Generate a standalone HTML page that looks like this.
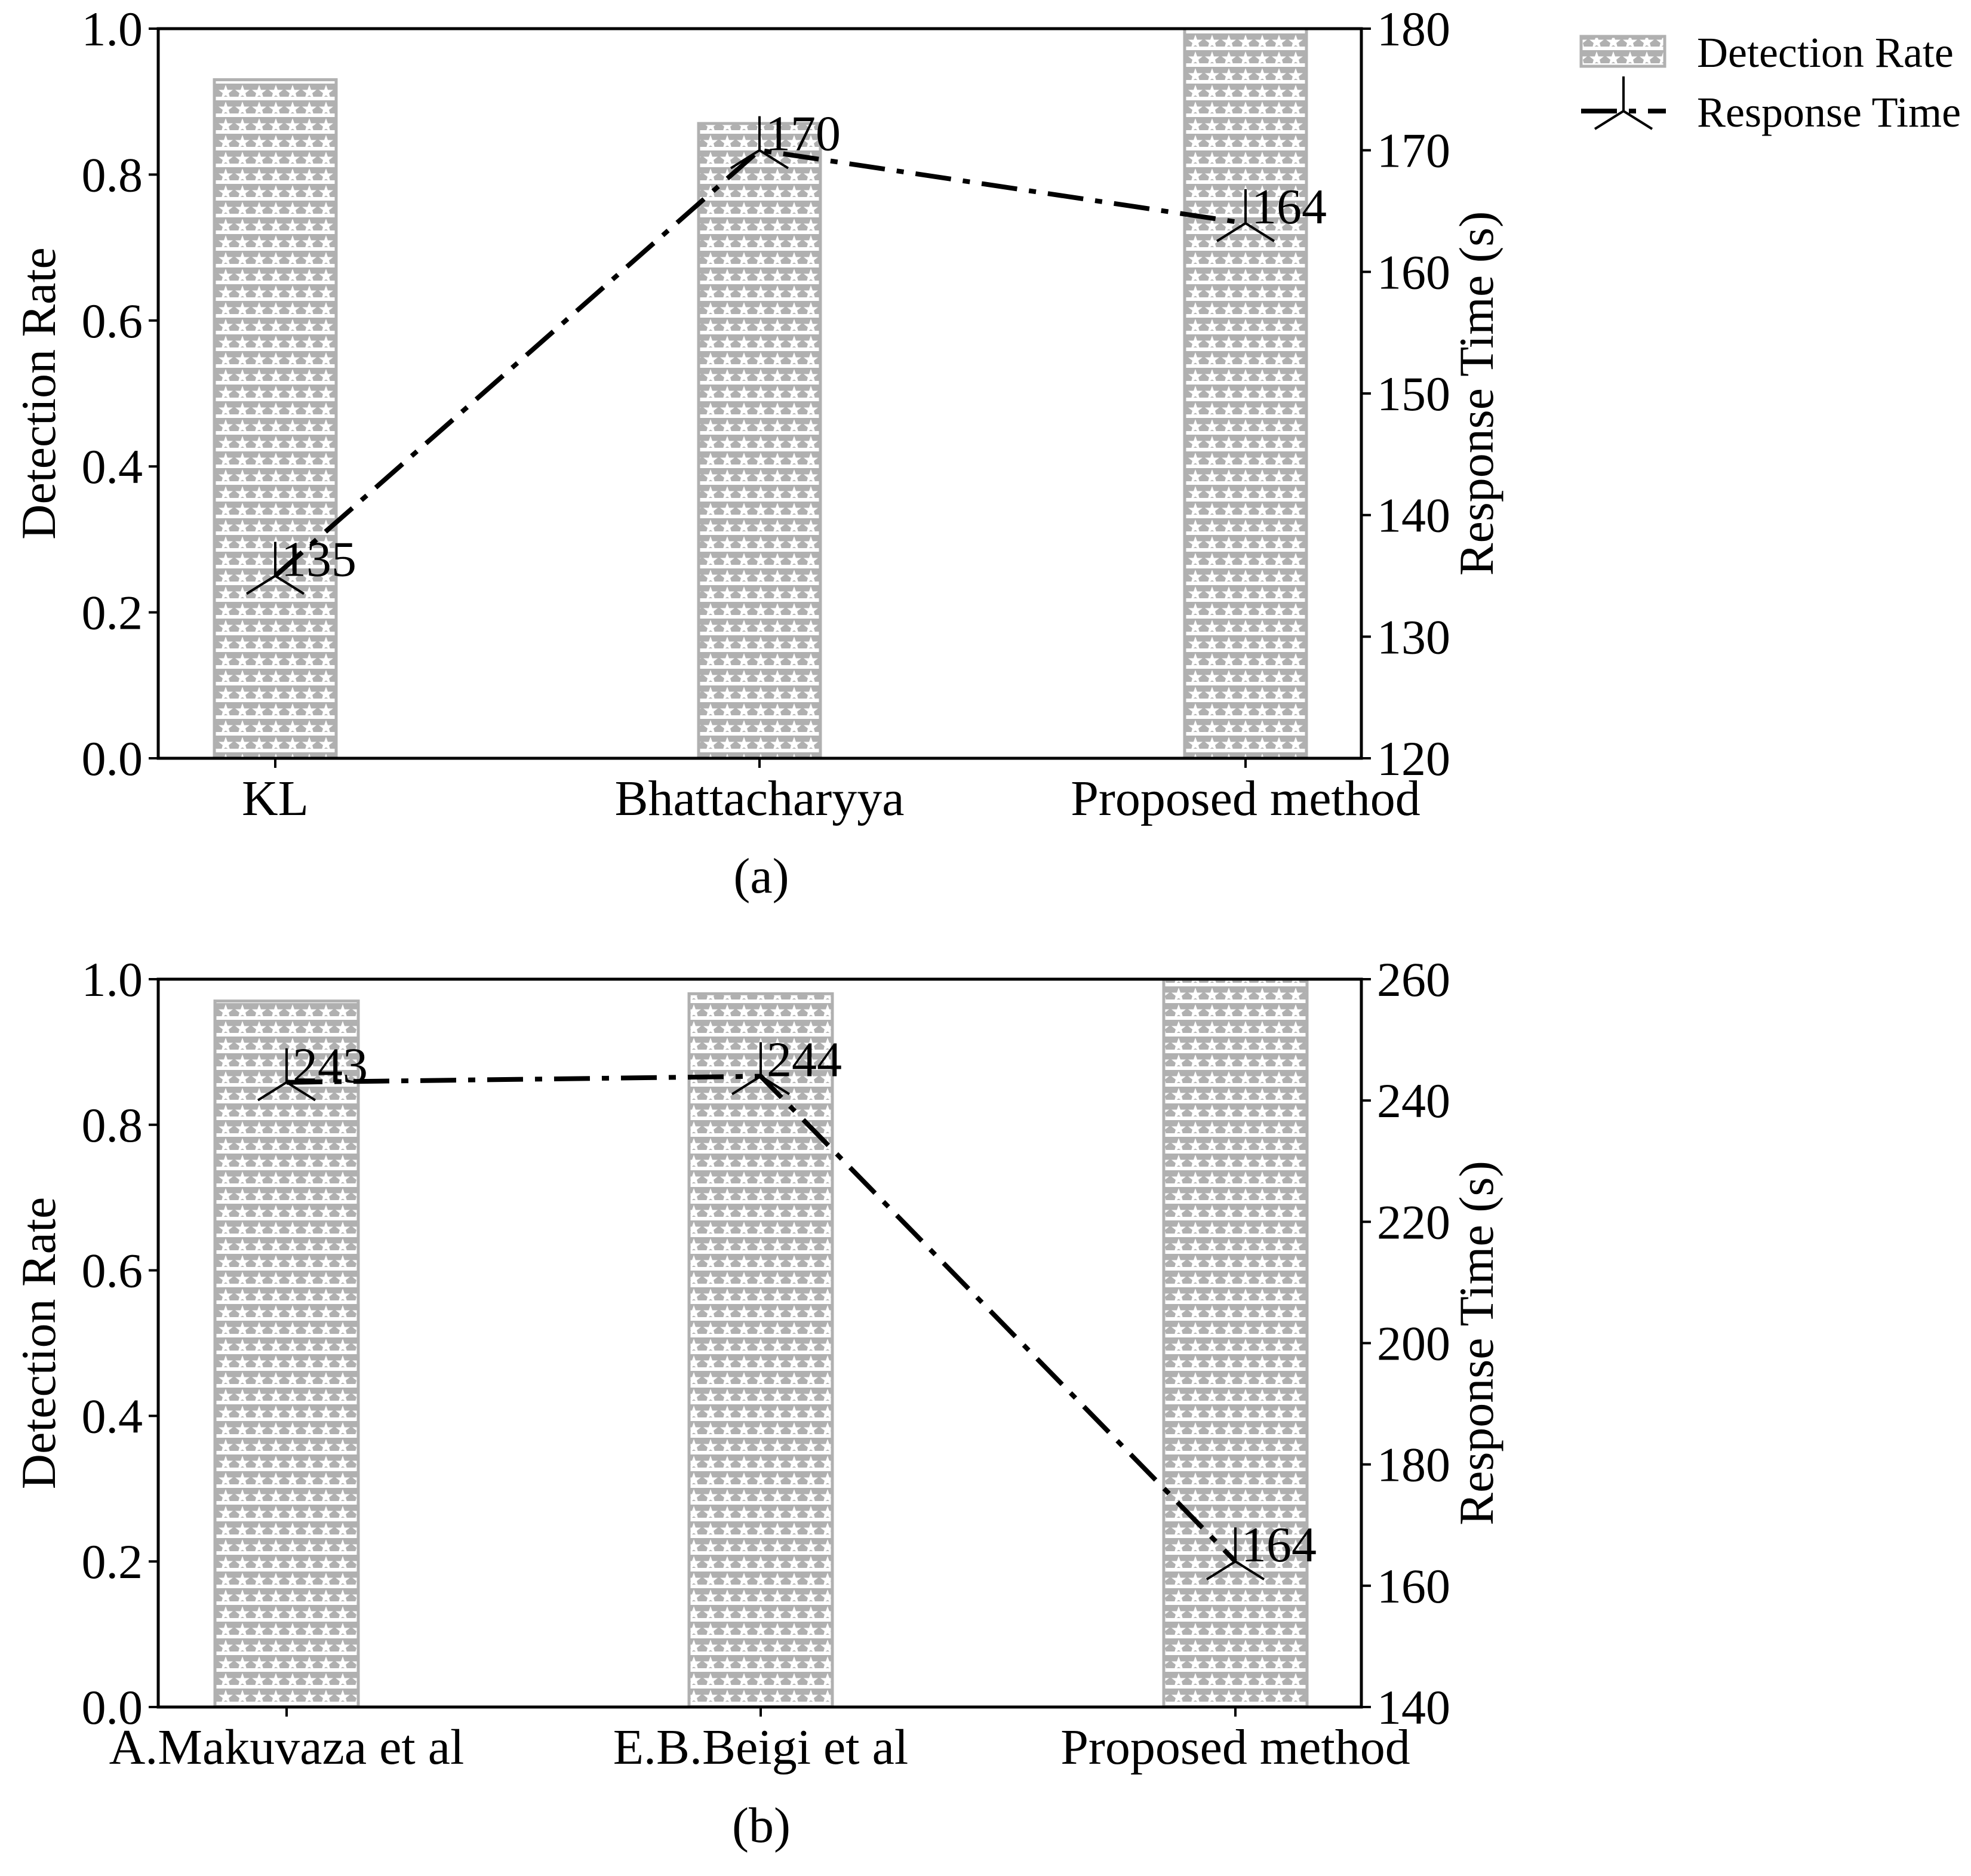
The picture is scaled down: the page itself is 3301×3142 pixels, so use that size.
<!DOCTYPE html>
<html><head><meta charset="utf-8"><style>
html,body{margin:0;padding:0;background:#fff;}
svg{display:block;font-family:"Liberation Serif",serif;}
</style></head>
<body>
<svg id="chart" width="3301" height="3142" viewBox="0 0 3301 3142" xmlns="http://www.w3.org/2000/svg">
<defs>
<pattern id="stars" patternUnits="userSpaceOnUse" width="28" height="28">
<rect width="28" height="28" fill="#b0b0b0"/>
<polygon points="14,2 17,10.5 26,10.5 19,16 21.5,25 14,19.5 6.5,25 9,16 2,10.5 11,10.5" fill="#fff"/>
<rect x="0" y="22" width="28" height="6" fill="#fff"/>
</pattern>
</defs>
</svg>
<script>
const catsA = ["KL","Bhattacharyya","Proposed method"];
const rateA = [0.93,0.87,1.0];
const timeA = [135,170,164];
const rtTicksA = [120,130,140,150,160,170,180];
const catsB = ["A.Makuvaza et al","E.B.Beigi et al","Proposed method"];
const rateB = [0.97,0.98,1.0];
const timeB = [243,244,164];
const rtTicksB = [140,160,180,200,220,240,260];
const drTicks = [0.0,0.2,0.4,0.6,0.8,1.0];

const svg = document.getElementById('chart');
const NS = 'http://www.w3.org/2000/svg';
function mk(tag, attrs, parent){const e=document.createElementNS(NS,tag);for(const k in attrs)e.setAttribute(k,attrs[k]);(parent||svg).appendChild(e);return e;}

function panel(cfg){
  const g = mk('g',{});
  
  
  const L=265,R=2280,T=cfg.top,B=cfg.bottom;
  const y1 = v => B - (v-0)/(1-0)*(B-T);
  const rmin=cfg.rt[0], rmax=cfg.rt[cfg.rt.length-1];
  const y2 = v => B - (v-rmin)/(rmax-rmin)*(B-T);
  const xs = cfg.centers;
  cfg.rate.forEach((v,i)=>{
    const r = mk('rect',{x:xs[i]-cfg.bw/2,y:y1(v),width:cfg.bw,height:B-y1(v),fill:'url(#stars)',stroke:'#b0b0b0','stroke-width':5},g);
    
    
  });
  mk('rect',{x:L,y:T,width:R-L,height:B-T,fill:'none',stroke:'#000','stroke-width':5},g);
  drTicks.forEach(t=>{
    const y=y1(t);
    mk('line',{x1:L-16,y1:y,x2:L,y2:y,stroke:'#000','stroke-width':4},g);
    const tx = mk('text',{x:L-26,y:y+28,'font-size':82,'text-anchor':'end'},g);
    tx.textContent=t.toFixed(1);
    
    
  });
  cfg.rt.forEach(t=>{
    const y=y2(t);
    mk('line',{x1:R,y1:y,x2:R+16,y2:y,stroke:'#000','stroke-width':4},g);
    const tx = mk('text',{x:R+26,y:y+28,'font-size':82},g);
    tx.textContent=t;
    
    
  });
  cfg.cats.forEach((c,i)=>{
    mk('line',{x1:xs[i],y1:B,x2:xs[i],y2:B+16,stroke:'#000','stroke-width':4},g);
    const tx = mk('text',{x:xs[i],y:B+95,'font-size':84,'text-anchor':'middle'},g);
    tx.textContent=c;
    
    
  });
  const yt = mk('text',{x:0,y:0,'font-size':82,'text-anchor':'middle',transform:`translate(92,${(T+B)/2}) rotate(-90)`},g);
  yt.textContent='Detection Rate';
  
  
  const yt2 = mk('text',{x:0,y:0,'font-size':82,'text-anchor':'middle',transform:`translate(2500,${(T+B)/2}) rotate(-90)`},g);
  yt2.textContent='Response Time (s)';
  
  
  const pts = cfg.time.map((v,i)=>xs[i]+','+y2(v)).join(' ');
  const pl = mk('polyline',{points:pts,fill:'none',stroke:'#000','stroke-width':8,'stroke-dasharray':'60 20 12 20'},g);
  
  
  cfg.time.forEach((v,i)=>{
    const x=xs[i], y=y2(v);
    const m = mk('path',{d:`M${x},${y}V${y-57}M${x},${y}l-48,30M${x},${y}l48,30`,stroke:'#000','stroke-width':4,fill:'none'},g);
    
    
    const t = mk('text',{x:x+10,y:y,'font-size':84},g);
    t.textContent=v;
    
    
  });
  const cap = mk('text',{x:1275,y:cfg.capY,'font-size':84,'text-anchor':'middle'},g);
  cap.textContent=cfg.cap;
  
  
}
panel({name:'panel-a',top:48,bottom:1270,rt:rtTicksA,rate:rateA,time:timeA,cats:catsA,centers:[461,1272,2086],bw:204,cap:'(a)',capY:1495});
panel({name:'panel-b',top:1640,bottom:2859,rt:rtTicksB,rate:rateB,time:timeB,cats:catsB,centers:[480,1274,2069],bw:240,cap:'(b)',capY:3085});

const lg = mk('g',{});


const lp = mk('rect',{x:2648,y:61,width:140,height:50,fill:'url(#stars)',stroke:'#b0b0b0','stroke-width':5},lg);


const lt1 = mk('text',{x:2842,y:112,'font-size':72},lg);
lt1.textContent='Detection Rate';


mk('line',{x1:2648,y1:186,x2:2790,y2:186,stroke:'#000','stroke-width':8,'stroke-dasharray':'60 20 12 20'},lg);
mk('path',{d:'M2719,186V128M2719,186l-48,30M2719,186l48,30',stroke:'#000','stroke-width':4,fill:'none'},lg);
const lt2 = mk('text',{x:2842,y:212,'font-size':72},lg);
lt2.textContent='Response Time';


</script>
</body></html>
